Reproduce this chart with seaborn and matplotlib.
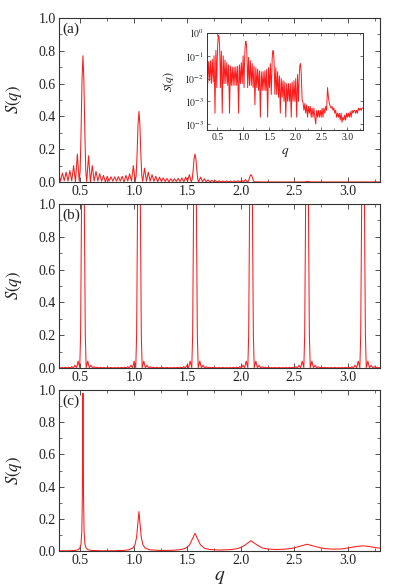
import matplotlib
matplotlib.use("Agg")
import matplotlib.pyplot as plt
import seaborn as sns
from matplotlib.ticker import MultipleLocator, FixedLocator, FixedFormatter, LogLocator, NullFormatter

# ---------------- data ----------------
# panel (a): finite system, decaying Bragg peaks with fringes
qa = [0.300, 0.3142, 0.3316, 0.3491, 0.3665, 0.3840, 0.4014, 0.4189, 0.4363, 0.4538,
      0.4712, 0.4887, 0.4974, 0.5061, 0.5149, 0.5236, 0.5323, 0.5411, 0.5498, 0.5585,
      0.5760, 0.5934, 0.6109, 0.6283, 0.6458, 0.6632, 0.6807, 0.6981, 0.7156, 0.7330,
      0.7505, 0.7679, 0.7854, 0.8028, 0.8203, 0.8378, 0.8552, 0.8727, 0.8901, 0.9076,
      0.9250, 0.9425, 0.9599, 0.9774, 0.9948, 1.0123, 1.0210, 1.0297, 1.0385, 1.0472,
      1.0559, 1.0647, 1.0734, 1.0821, 1.0996, 1.1170, 1.1345, 1.1519, 1.1694, 1.1868,
      1.2043, 1.2217, 1.2392, 1.2566, 1.2741, 1.2915, 1.3090, 1.3265, 1.3439, 1.3614,
      1.3788, 1.3963, 1.4137, 1.4312, 1.4486, 1.4661, 1.4835, 1.5010, 1.5184, 1.5359,
      1.5446, 1.5533, 1.5621, 1.5708, 1.5795, 1.5883, 1.5970, 1.6057, 1.6232, 1.6406,
      1.6581, 1.6755, 1.6930, 1.7104, 1.7279, 1.7453, 1.7628, 1.7802, 1.7977, 1.8151,
      1.8326, 1.8500, 1.8675, 1.8850, 1.9024, 1.9199, 1.9373, 1.9548, 1.9722, 1.9897,
      2.0071, 2.0246, 2.0420, 2.0595, 2.0682, 2.0769, 2.0857, 2.0944, 2.1031, 2.1119,
      2.1206, 2.1293, 2.1468, 2.1642, 2.1817, 2.1991, 2.2166, 2.2340, 2.2515, 2.2689,
      2.2864, 2.3038, 2.3213, 2.3387, 2.3562, 2.3736, 2.3911, 2.4086, 2.4260, 2.4435,
      2.4609, 2.4784, 2.4958, 2.5133, 2.5307, 2.5482, 2.5656, 2.5831, 2.6005, 2.6180,
      2.6354, 2.6529, 2.6703, 2.6878, 2.7052, 2.7227, 2.7401, 2.7576, 2.7750, 2.7925,
      2.8099, 2.8274, 2.8448, 2.8623, 2.8798, 2.8972, 2.9147, 2.9322, 2.9496, 2.9671,
      2.9845, 3.0020, 3.0194, 3.0369, 3.0543, 3.0718, 3.0892, 3.1067, 3.1241, 3.1416,
      3.1590, 3.1765, 3.1940, 3.2114, 3.2289, 3.2463, 3.2638, 3.2812, 3.3000]
sa = [0.045, 0.006, 0.055, 0.008, 0.060, 0.006, 0.070, 0.007, 0.100, 0.0003,
      0.170, 0.004, 0.070, 0.310, 0.620, 0.770, 0.620, 0.310, 0.070, 0.004,
      0.160, 0.0003, 0.100, 0.006, 0.065, 0.006, 0.050, 0.005, 0.040, 0.0003,
      0.035, 0.005, 0.032, 0.005, 0.032, 0.005, 0.033, 0.005, 0.035, 0.0003,
      0.040, 0.006, 0.050, 0.006, 0.100, 0.004, 0.040, 0.170, 0.350, 0.430,
      0.350, 0.170, 0.040, 0.004, 0.085, 0.005, 0.060, 0.005, 0.045, 0.004,
      0.035, 0.0007, 0.030, 0.004, 0.025, 0.003, 0.022, 0.0002, 0.020, 0.003,
      0.020, 0.003, 0.022, 0.003, 0.025, 0.0002, 0.030, 0.004, 0.045, 0.002,
      0.015, 0.070, 0.140, 0.170, 0.140, 0.070, 0.015, 0.002, 0.030, 0.002,
      0.020, 0.0015, 0.013, 0.0003, 0.010, 0.0015, 0.008, 0.001, 0.007, 0.0002,
      0.006, 0.001, 0.006, 0.001, 0.006, 0.0002, 0.007, 0.001, 0.008, 0.001,
      0.010, 0.0002, 0.015, 0.001, 0.004, 0.018, 0.036, 0.045, 0.036, 0.018,
      0.004, 0.0012, 0.0009, 0.0004, 0.0008, 0.0003, 0.0007, 0.0002, 0.0006, 0.0003,
      0.0006, 0.0002, 0.0005, 0.0002, 0.0005, 0.0002, 0.0001, 0.0004, 0.0002, 0.0004,
      0.0002, 0.0004, 0.0002, 0.0005, 0.0002, 0.0005, 0.0003, 0.0006, 0.0004, 0.0040,
      0.0015, 0.0008, 0.0006, 0.0005, 0.0006, 0.0004, 0.0005, 0.0003, 0.0004, 0.0002,
      0.0003, 0.0002, 0.0003, 0.00015, 0.0003, 0.00012, 0.0002, 0.00015, 0.00025, 0.00015,
      0.0003, 0.0002, 0.0003, 0.0002, 0.00035, 0.0002, 0.0004, 0.0003, 0.0004, 0.0004,
      0.0003, 0.0004, 0.0003, 0.0005, 0.0004, 0.0005, 0.0004, 0.0005, 0.0005]

# panel (b): sharp peaks (clipped at 1.0) with small side lobes
qb = [0.3000, 0.3136, 0.3286, 0.3436, 0.3586, 0.3736, 0.3886, 0.4036, 0.4186, 0.4336,
      0.4486, 0.4636, 0.4786, 0.4936, 0.5016, 0.5086, 0.5156, 0.5236, 0.5316, 0.5386,
      0.5456, 0.5536, 0.5686, 0.5836, 0.5986, 0.6136, 0.6286, 0.6436, 0.6586, 0.6736,
      0.6886, 0.7036, 0.7186, 0.7336, 0.7486, 0.7636, 0.7854,
      0.8072, 0.8222, 0.8372, 0.8522, 0.8672, 0.8822, 0.8972, 0.9122, 0.9272, 0.9422,
      0.9572, 0.9722, 0.9872, 1.0022, 1.0172, 1.0252, 1.0322, 1.0392, 1.0472, 1.0552,
      1.0622, 1.0692, 1.0772, 1.0922, 1.1072, 1.1222, 1.1372, 1.1522, 1.1672, 1.1822,
      1.1972, 1.2122, 1.2272, 1.2422, 1.2572, 1.2722, 1.2872, 1.3090,
      1.3308, 1.3458, 1.3608, 1.3758, 1.3908, 1.4058, 1.4208, 1.4358, 1.4508, 1.4658,
      1.4808, 1.4958, 1.5108, 1.5258, 1.5408, 1.5488, 1.5558, 1.5628, 1.5708, 1.5788,
      1.5858, 1.5928, 1.6008, 1.6158, 1.6308, 1.6458, 1.6608, 1.6758, 1.6908, 1.7058,
      1.7208, 1.7358, 1.7508, 1.7658, 1.7808, 1.7958, 1.8108, 1.8326,
      1.8544, 1.8694, 1.8844, 1.8994, 1.9144, 1.9294, 1.9444, 1.9594, 1.9744, 1.9894,
      2.0044, 2.0194, 2.0344, 2.0494, 2.0644, 2.0724, 2.0794, 2.0864, 2.0944, 2.1024,
      2.1094, 2.1164, 2.1244, 2.1394, 2.1544, 2.1694, 2.1844, 2.1994, 2.2144, 2.2294,
      2.2444, 2.2594, 2.2744, 2.2894, 2.3044, 2.3194, 2.3344, 2.3562,
      2.3780, 2.3930, 2.4080, 2.4230, 2.4380, 2.4530, 2.4680, 2.4830, 2.4980, 2.5130,
      2.5280, 2.5430, 2.5580, 2.5730, 2.5880, 2.5960, 2.6030, 2.6100, 2.6180, 2.6260,
      2.6330, 2.6400, 2.6480, 2.6630, 2.6780, 2.6930, 2.7080, 2.7230, 2.7380, 2.7530,
      2.7680, 2.7830, 2.7980, 2.8130, 2.8280, 2.8430, 2.8580, 2.8798,
      2.9016, 2.9166, 2.9316, 2.9466, 2.9616, 2.9766, 2.9916, 3.0066, 3.0216, 3.0366,
      3.0516, 3.0666, 3.0816, 3.0966, 3.1116, 3.1196, 3.1266, 3.1336, 3.1416, 3.1496,
      3.1566, 3.1636, 3.1716, 3.1866, 3.2016, 3.2166, 3.2316, 3.2466, 3.2616, 3.2766,
      3.2916, 3.3066]
sb = [0.003, 0.0005, 0.003, 0.0005, 0.004, 0.0005, 0.005, 0.001, 0.008, 0.001,
      0.017, 0.001, 0.042, 0.002, 0.20, 0.81, 1.58, 2.0, 1.58, 0.81,
      0.20, 0.002, 0.042, 0.001, 0.017, 0.001, 0.008, 0.001, 0.005, 0.0005,
      0.004, 0.0005, 0.003, 0.0005, 0.003, 0.0005, 0.003,
      0.0005, 0.003, 0.0005, 0.003, 0.0005, 0.004, 0.0005, 0.005, 0.001, 0.008,
      0.001, 0.017, 0.001, 0.042, 0.002, 0.20, 0.81, 1.58, 2.0, 1.58,
      0.81, 0.20, 0.002, 0.042, 0.001, 0.017, 0.001, 0.008, 0.001, 0.005,
      0.0005, 0.004, 0.0005, 0.003, 0.0005, 0.003, 0.0005, 0.003,
      0.0005, 0.003, 0.0005, 0.003, 0.0005, 0.004, 0.0005, 0.005, 0.001, 0.008,
      0.001, 0.017, 0.001, 0.042, 0.002, 0.20, 0.81, 1.58, 2.0, 1.58,
      0.81, 0.20, 0.002, 0.042, 0.001, 0.017, 0.001, 0.008, 0.001, 0.005,
      0.0005, 0.004, 0.0005, 0.003, 0.0005, 0.003, 0.0005, 0.003,
      0.0005, 0.003, 0.0005, 0.003, 0.0005, 0.004, 0.0005, 0.005, 0.001, 0.008,
      0.001, 0.017, 0.001, 0.042, 0.002, 0.20, 0.81, 1.58, 2.0, 1.58,
      0.81, 0.20, 0.002, 0.042, 0.001, 0.017, 0.001, 0.008, 0.001, 0.005,
      0.0005, 0.004, 0.0005, 0.003, 0.0005, 0.003, 0.0005, 0.003,
      0.0005, 0.003, 0.0005, 0.003, 0.0005, 0.004, 0.0005, 0.005, 0.001, 0.008,
      0.001, 0.017, 0.001, 0.042, 0.002, 0.20, 0.81, 1.58, 2.0, 1.58,
      0.81, 0.20, 0.002, 0.042, 0.001, 0.017, 0.001, 0.008, 0.001, 0.005,
      0.0005, 0.004, 0.0005, 0.003, 0.0005, 0.003, 0.0005, 0.003,
      0.0005, 0.003, 0.0005, 0.003, 0.0005, 0.004, 0.0005, 0.005, 0.001, 0.008,
      0.001, 0.017, 0.001, 0.042, 0.002, 0.20, 0.81, 1.58, 2.0, 1.58,
      0.81, 0.20, 0.002, 0.042, 0.001, 0.017, 0.001, 0.008, 0.001, 0.005,
      0.0005, 0.004]

# panel (c): Lorentzian-like peaks broadening with order
qc = [0.300, 0.400, 0.460, 0.480, 0.495, 0.505, 0.513, 0.518, 0.521, 0.5236,
      0.526, 0.529, 0.534, 0.542, 0.552, 0.570, 0.600, 0.700, 0.800, 0.900,
      0.950, 0.990, 1.010, 1.025, 1.035, 1.047, 1.059, 1.069, 1.084, 1.104,
      1.150, 1.250, 1.350, 1.430, 1.480, 1.520, 1.545, 1.571, 1.597, 1.622,
      1.662, 1.712, 1.800, 1.900, 1.960, 2.000, 2.040, 2.094, 2.150, 2.200,
      2.250, 2.320, 2.400, 2.470, 2.540, 2.618, 2.700, 2.780, 2.860, 2.940,
      3.020, 3.080, 3.142, 3.200, 3.250, 3.300]
sc = [0.001, 0.0015, 0.0044, 0.0087, 0.019, 0.042, 0.122, 0.331, 0.69, 0.98,
      0.72, 0.347, 0.126, 0.044, 0.020, 0.008, 0.0037, 0.0015, 0.0018, 0.0035,
      0.0071, 0.0185, 0.039, 0.085, 0.157, 0.245, 0.157, 0.085, 0.039, 0.019,
      0.0071, 0.0034, 0.0041, 0.008, 0.0157, 0.037, 0.073, 0.110, 0.073, 0.038,
      0.016, 0.009, 0.0062, 0.0085, 0.014, 0.022, 0.038, 0.064, 0.038, 0.019,
      0.0125, 0.0097, 0.0108, 0.0156, 0.027, 0.042, 0.027, 0.015, 0.0117, 0.0128,
      0.021, 0.028, 0.032, 0.028, 0.022, 0.018]

panel_labels = ["(a)", "(b)", "(c)"]
inset_ytick_vals = [1.0, 1e-1, 1e-2, 1e-3, 1e-4]
inset_ytick_text = [r"$10^{0}$", r"$10^{-1}$", r"$10^{-2}$", r"$10^{-3}$", r"$10^{-3}$"]

# ---------------- style ----------------
sns.set_theme(style="ticks")
plt.rcParams["font.family"] = "serif"
plt.rcParams["font.serif"] = ["Liberation Serif", "DejaVu Serif"]
plt.rcParams["mathtext.fontset"] = "stix"
plt.rcParams["axes.unicode_minus"] = False

LINE = "#ff1a1a"
EDGE = "#333333"
TXT = "#222222"

fig = plt.figure(figsize=(4.09, 5.86), dpi=100)
fig.patch.set_facecolor("white")
axa = fig.add_axes([0.1443, 0.6894, 0.7848, 0.2799])
axb = fig.add_axes([0.1443, 0.3720, 0.7848, 0.2799])
axc = fig.add_axes([0.1443, 0.0597, 0.7848, 0.2747])


def style_main(ax, label):
    ax.set_xlim(0.3, 3.3)
    ax.set_ylim(0.0, 1.0)
    ax.xaxis.set_major_locator(MultipleLocator(0.5))
    ax.xaxis.set_minor_locator(MultipleLocator(0.25))
    ax.yaxis.set_major_locator(MultipleLocator(0.2))
    ax.yaxis.set_minor_locator(MultipleLocator(0.1))
    ax.xaxis.set_major_formatter(matplotlib.ticker.FormatStrFormatter("%.1f"))
    ax.yaxis.set_major_formatter(matplotlib.ticker.FormatStrFormatter("%.1f"))
    ax.tick_params(which="both", direction="in", top=True, right=True,
                   color=EDGE, labelsize=10, labelcolor=TXT)
    ax.tick_params(which="major", length=3.5, width=0.6, pad=2.5)
    ax.tick_params(which="minor", length=2.0, width=0.5)
    for sp in ax.spines.values():
        sp.set_linewidth(0.8)
        sp.set_color(EDGE)
    ax.set_ylabel(r"$S(q)$", fontsize=12, color=TXT)
    ax.yaxis.set_label_coords(-0.11, 0.5)
    ax.set_xlabel("")
    ax.text(0.012, 0.975, label, transform=ax.transAxes, ha="left", va="top",
            fontsize=11, color=TXT)


for ax, q, s, lab in [(axa, qa, sa, panel_labels[0]),
                      (axb, qb, sb, panel_labels[1]),
                      (axc, qc, sc, panel_labels[2])]:
    sns.lineplot(x=q, y=s, ax=ax, color=LINE, linewidth=0.75, legend=False)
    style_main(ax, lab)

axc.set_xlabel(r"$q$", fontsize=14, color=TXT)
axc.xaxis.set_label_coords(0.5, -0.11)

# ---------------- inset (log scale) ----------------
axi = fig.add_axes([0.5061, 0.7782, 0.3814, 0.1655])
axi.set_facecolor("white")
sns.lineplot(x=qa, y=sa, ax=axi, color=LINE, linewidth=0.7, legend=False)
axi.set_yscale("log")
axi.set_xlim(0.3, 3.3)
axi.set_ylim(5.5e-5, 1.0)
axi.xaxis.set_major_locator(MultipleLocator(0.5))
axi.xaxis.set_minor_locator(MultipleLocator(0.25))
axi.xaxis.set_major_formatter(matplotlib.ticker.FormatStrFormatter("%.1f"))
axi.yaxis.set_major_locator(FixedLocator(inset_ytick_vals))
axi.yaxis.set_major_formatter(FixedFormatter(inset_ytick_text))
axi.yaxis.set_minor_locator(LogLocator(base=10, subs=(2, 3, 4, 5, 6, 7, 8, 9)))
axi.yaxis.set_minor_formatter(NullFormatter())
axi.tick_params(which="both", direction="in", top=True, right=True,
                color=EDGE, labelsize=7, labelcolor=TXT)
axi.tick_params(which="major", length=2.5, width=0.5, pad=2)
axi.tick_params(which="minor", length=1.3, width=0.4)
for sp in axi.spines.values():
    sp.set_linewidth(0.7)
    sp.set_color(EDGE)
axi.set_ylabel(r"$S(q)$", fontsize=8.5, color=TXT)
axi.yaxis.set_label_coords(-0.2, 0.5)
axi.set_xlabel(r"$q$", fontsize=9.5, color=TXT)
axi.xaxis.set_label_coords(0.5, -0.17)

fig.savefig("out.png", dpi=100, facecolor="white")
